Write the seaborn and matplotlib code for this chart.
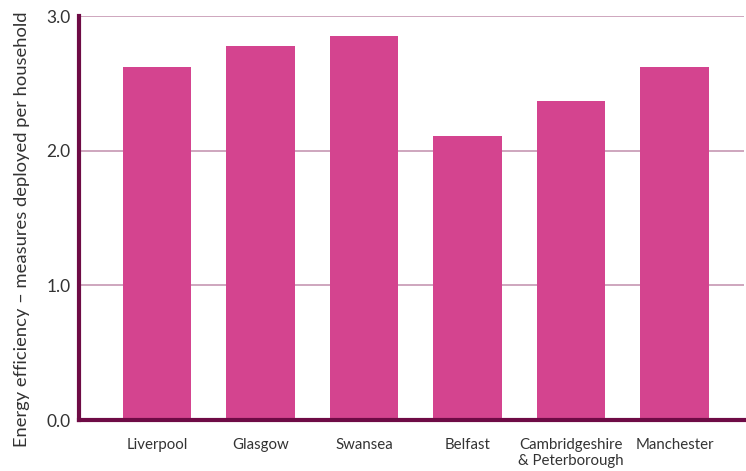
import matplotlib
matplotlib.use("Agg")
import matplotlib.pyplot as plt
import seaborn as sns
import pandas as pd

cities = ["Liverpool", "Glasgow", "Swansea", "Belfast",
          "Cambridgeshire\n& Peterborough", "Manchester"]
measures = [2.62, 2.78, 2.85, 2.11, 2.37, 2.62]
y_ticks = [0.0, 1.0, 2.0, 3.0]

bar_color = "#D4448F"
spine_color = "#6E0B45"
grid_color = "#C697B3"

sns.set_theme(style="white")
plt.rcParams["font.family"] = ["Lato", "DejaVu Sans"]

df = pd.DataFrame({"city": cities, "measures": measures})

fig = plt.figure(figsize=(7.46, 4.71), dpi=100)
ax = fig.add_axes([0.106, 0.108, 0.891, 0.858])

sns.barplot(data=df, x="city", y="measures", color=bar_color,
            width=0.66, saturation=1, linewidth=0, ax=ax, zorder=3)

ax.set_ylim(0, 3.0)
ax.set_xlim(-0.755, 5.67)
ax.set_yticks(y_ticks)
ax.set_yticklabels([f"{v:.1f}" for v in y_ticks], fontsize=12.5, color="#333333")
ax.tick_params(axis="x", labelsize=10.8, labelcolor="#333333", length=0, pad=13)
ax.tick_params(axis="y", length=0, pad=6)
for lbl in ax.get_xticklabels():
    lbl.set_verticalalignment("top")
    lbl.set_linespacing(1.2)

ax.set_xlabel("")
ax.set_ylabel("Energy efficiency \u2013 measures deployed per household",
              fontsize=13.2, color="#333333")
ax.yaxis.set_label_coords(-0.074, 0.472)

ax.yaxis.grid(True, color=grid_color, linewidth=1.2, zorder=0)
ax.xaxis.grid(False)

for side in ["top", "right"]:
    ax.spines[side].set_visible(False)
for side in ["left", "bottom"]:
    ax.spines[side].set_color(spine_color)
    ax.spines[side].set_linewidth(3)
    ax.spines[side].set_zorder(4)

fig.savefig("out.png", dpi=100)
